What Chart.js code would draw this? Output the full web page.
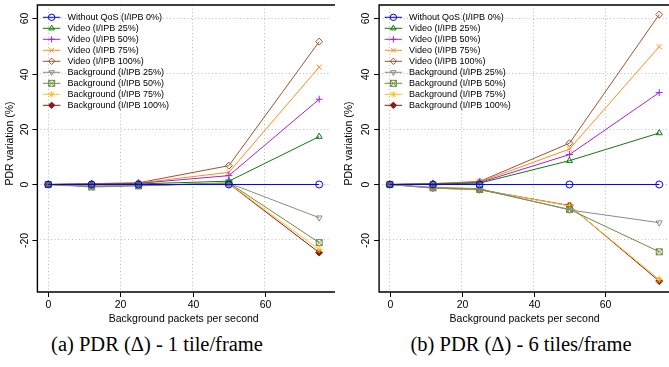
<!DOCTYPE html>
<html>
<head>
<meta charset="utf-8">
<script src="https://cdn.jsdelivr.net/npm/chart.js@4.4.0/dist/chart.umd.min.js"></script>
<style>
body { margin: 0; width: 669px; height: 367px; overflow: hidden; background: #fff; position: relative; }
.plot { position: absolute; top: 0; }
#plot-a { left: 0; }
#plot-b { left: 335px; }
.cap { position: absolute; top: 333px; font-family: "Liberation Serif", "Times New Roman", serif; font-size: 20.5px; white-space: nowrap; transform: translateX(-50%); color: #000; }
</style>
</head>
<body>
<canvas id="plot-a" class="plot" width="335" height="330"></canvas>
<canvas id="plot-b" class="plot" width="340" height="330"></canvas>
<div class="cap" style="left:157px">(a) PDR (&Delta;) - 1 tile/frame</div>
<div class="cap" style="left:521px">(b) PDR (&Delta;) - 6 tiles/frame</div>
<script>
// x axis: background packets per second
var xValues = [0, 12, 25, 50, 75];
var xTicks = [0, 20, 40, 60];
var yTicks = [-20, 0, 20, 40, 60];

var seriesNames = [
	'Without QoS (I/IPB 0%)',
	'Video (I/IPB 25%)',
	'Video (I/IPB 50%)',
	'Video (I/IPB 75%)',
	'Video (I/IPB 100%)',
	'Background (I/IPB 25%)',
	'Background (I/IPB 50%)',
	'Background (I/IPB 75%)',
	'Background (I/IPB 100%)'
];

// (a) 1 tile/frame
var noQos1 = [0, 0, 0, 0, 0];
var video25_1 = [0, 0.1, 0.2, 1.2, 17.3];
var video50_1 = [0, 0.2, 0.4, 3.2, 30.8];
var video75_1 = [0, 0.3, 0.5, 4.4, 42.4];
var video100_1 = [0, 0.3, 0.6, 6.8, 51.6];
var bg25_1 = [0, -0.6, -0.4, 0.5, -12.0];
var bg50_1 = [0, -0.9, -0.5, 0.6, -21.0];
var bg75_1 = [0, -0.5, -0.3, 0.4, -23.5];
var bg100_1 = [0, -0.6, -0.3, 0.3, -24.6];

// (b) 6 tiles/frame
var noQos6 = [0, 0, 0, 0, 0];
var video25_6 = [0, 0.2, 0.5, 8.6, 18.6];
var video50_6 = [0, 0.2, 0.7, 10.8, 33.2];
var video75_6 = [0, 0.3, 0.9, 12.8, 49.8];
var video100_6 = [0, 0.3, 1.1, 14.9, 61.4];
var bg25_6 = [0, -1.0, -1.5, -9.2, -13.8];
var bg50_6 = [0, -1.2, -1.8, -9.0, -24.3];
var bg75_6 = [0, -1.3, -1.9, -7.7, -34.3];
var bg100_6 = [0, -1.3, -1.9, -7.6, -34.9];

var FONT = '"Liberation Sans", Arial, Helvetica, sans-serif';

/**
 * 사각형 + X 마커 (R pch 7)
 */
function makeBoxX(color) {
	var c = document.createElement('canvas');
	c.width = 9;
	c.height = 9;
	var g = c.getContext('2d');
	g.strokeStyle = color;
	g.lineWidth = 1;
	g.strokeRect(1.5, 1.5, 6, 6);
	g.beginPath();
	g.moveTo(1.5, 1.5); g.lineTo(7.5, 7.5);
	g.moveTo(7.5, 1.5); g.lineTo(1.5, 7.5);
	g.stroke();
	return c;
}

var styles = [
	{ color: '#0000ff', point: 'circle', fill: 'rgba(0,0,0,0)', rot: 0 },
	{ color: '#107a10', point: 'triangle', fill: 'rgba(0,0,0,0)', rot: 0 },
	{ color: '#a020f0', point: 'cross', fill: 'rgba(0,0,0,0)', rot: 0 },
	{ color: '#ff8c1a', point: 'crossRot', fill: 'rgba(0,0,0,0)', rot: 0 },
	{ color: '#a0522d', point: 'rectRot', fill: 'rgba(0,0,0,0)', rot: 0 },
	{ color: '#8b8b83', point: 'triangle', fill: 'rgba(0,0,0,0)', rot: 180 },
	{ color: '#6e8b3d', point: makeBoxX('#6e8b3d'), fill: 'rgba(0,0,0,0)', rot: 0 },
	{ color: '#ffc125', point: 'star', fill: 'rgba(0,0,0,0)', rot: 0 },
	{ color: '#8b1a1a', point: 'rectRot', fill: '#8b1a1a', rot: 0 }
];

function buildDatasets(series) {
	return series.map(function(values, i) {
		var s = styles[i];
		return {
			label: seriesNames[i],
			data: xValues.map(function(x, j) { return { x: x, y: values[j] }; }),
			borderColor: s.color,
			borderWidth: 1,
			backgroundColor: s.fill,
			pointStyle: s.point,
			pointRotation: s.rot,
			pointRadius: 3.5,
			pointBorderWidth: 1,
			pointBorderColor: s.color,
			pointBackgroundColor: s.fill,
			tension: 0,
			clip: false
		};
	});
}

/**
 * R 스타일 축, 눈금, 범례 그리기
 */
var rAxesPlugin = {
	id: 'rAxes',
	afterDraw: function(chart, args, opts) {
		var ctx = chart.ctx;
		var ca = chart.chartArea;
		var xs = chart.scales.x;
		var ys = chart.scales.y;
		ctx.save();
		// frame (top, left, bottom)
		ctx.strokeStyle = '#000';
		ctx.lineWidth = 1.4;
		ctx.beginPath();
		ctx.moveTo(ca.right + 10, ca.top);
		ctx.lineTo(ca.left, ca.top);
		ctx.lineTo(ca.left, ca.bottom);
		ctx.lineTo(ca.right + 10, ca.bottom);
		ctx.stroke();

		ctx.lineWidth = 1;
		ctx.fillStyle = '#000';
		ctx.font = '10.5px ' + FONT;
		// x ticks
		ctx.textAlign = 'center';
		ctx.textBaseline = 'middle';
		xTicks.forEach(function(v) {
			var px = Math.round(xs.getPixelForValue(v)) + 0.5;
			ctx.beginPath();
			ctx.moveTo(px, ca.bottom);
			ctx.lineTo(px, ca.bottom + 5);
			ctx.stroke();
			ctx.fillText(String(v), px, ca.bottom + 13);
		});
		ctx.fillText('Background packets per second', (ca.left + ca.right) / 2 + opts.xTitleShift, ca.bottom + 27);

		// y ticks (rotated labels)
		yTicks.forEach(function(v) {
			var py = Math.round(ys.getPixelForValue(v)) + 0.5;
			ctx.beginPath();
			ctx.moveTo(ca.left, py);
			ctx.lineTo(ca.left - 5, py);
			ctx.stroke();
			ctx.save();
			ctx.translate(ca.left - 12.5, py);
			ctx.rotate(-Math.PI / 2);
			ctx.fillText(String(v), 0, 0);
			ctx.restore();
		});
		ctx.save();
		ctx.translate(ca.left - opts.yTitleOffset, (ca.top + ca.bottom) / 2 - 5);
		ctx.rotate(-Math.PI / 2);
		ctx.fillText('PDR variation (%)', 0, 0);
		ctx.restore();

		// legend: line + marker + text
		ctx.font = '9px ' + FONT;
		ctx.textAlign = 'left';
		chart.data.datasets.forEach(function(ds, i) {
			var y = ca.top + 12.3 + i * 11;
			var x0 = ca.left + 5.5;
			ctx.strokeStyle = ds.borderColor;
			ctx.lineWidth = 1;
			ctx.beginPath();
			ctx.moveTo(x0, y);
			ctx.lineTo(x0 + 17.5, y);
			ctx.stroke();
			ctx.fillStyle = ds.pointBackgroundColor;
			ctx.strokeStyle = ds.borderColor;
			Chart.helpers.drawPoint(ctx, {
				pointStyle: ds.pointStyle,
				rotation: ds.pointRotation,
				radius: 3.2,
				borderWidth: 1
			}, x0 + 8.75, y);
			ctx.fillStyle = '#000';
			ctx.fillText(ds.label, x0 + 24.5, y + 0.5);
		});
		ctx.restore();
	}
};

function createChart(id, series, padLeft, padRight, yTitleOffset, xTitleShift) {
	return new Chart(document.getElementById(id), {
		type: 'line',
		data: { datasets: buildDatasets(series) },
		plugins: [rAxesPlugin],
		options: {
			responsive: false,
			animation: false,
			layout: { padding: { left: padLeft, right: padRight, top: 3.75, bottom: 38 } },
			plugins: {
				legend: { display: false },
				tooltip: { enabled: false },
				rAxes: { yTitleOffset: yTitleOffset, xTitleShift: xTitleShift }
			},
			scales: {
				x: {
					type: 'linear',
					min: -3,
					max: 78,
					afterBuildTicks: function(s) { s.ticks = xTicks.map(function(v) { return { value: v }; }); },
					ticks: { display: false },
					grid: { color: '#bdbdbd', lineWidth: 1, drawTicks: false },
					border: { display: false, dash: [1, 2.5] }
				},
				y: {
					type: 'linear',
					min: -38.84,
					max: 64.84,
					afterBuildTicks: function(s) { s.ticks = yTicks.map(function(v) { return { value: v }; }); },
					ticks: { display: false },
					grid: { color: '#bdbdbd', lineWidth: 1, drawTicks: false },
					border: { display: false, dash: [1, 2.5] }
				}
			}
		}
	});
}

createChart('plot-a',
	[noQos1, video25_1, video50_1, video75_1, video100_1, bg25_1, bg50_1, bg75_1, bg100_1],
	37.4, 4.1, 27, 0);
createChart('plot-b',
	[noQos6, video25_6, video50_6, video75_6, video100_6, bg25_6, bg50_6, bg75_6, bg100_6],
	44.1, 340 - 337.4, 30, 0);
</script>
</body>
</html>
